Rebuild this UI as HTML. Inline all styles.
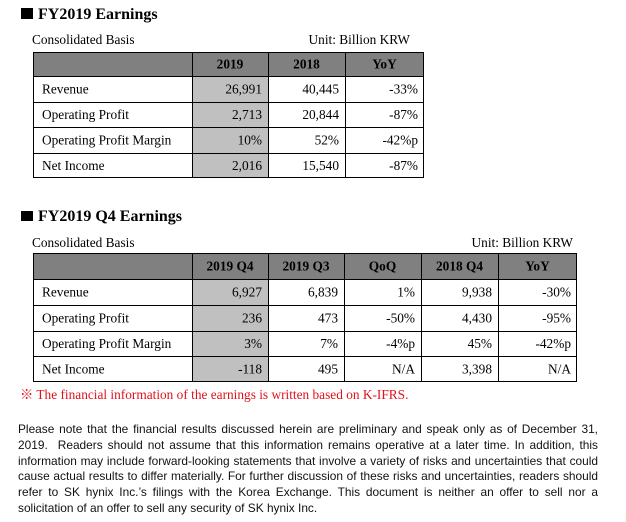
<!DOCTYPE html>
<html><head><meta charset="utf-8"><style>
html,body{margin:0;padding:0;background:#fff;}
body{width:626px;height:522px;position:relative;overflow:hidden;}
svg{position:absolute;left:0;top:0;}
.para{position:absolute;left:18px;top:422px;width:580px;font-family:"Liberation Sans","DejaVu Sans",sans-serif;font-size:11.9px;color:#111;}
.para div{height:15.8px;line-height:15.8px;text-align:justify;text-align-last:justify;white-space:nowrap;}
.para div.last{text-align-last:left;}
</style></head><body>
<svg width="626" height="522" viewBox="0 0 626 522" xmlns="http://www.w3.org/2000/svg" font-family="Liberation Serif, Times New Roman, serif" font-size="13.33">
<!-- Title 1 -->
<rect x="21" y="8" width="12" height="11" fill="#000"/>
<text x="38" y="19" font-size="16" font-weight="bold">FY2019 Earnings</text>
<text x="32" y="44">Consolidated Basis</text>
<text x="410" y="44" text-anchor="end">Unit: Billion KRW</text>
<!-- Table 1 -->
<rect x="33" y="52" width="391" height="24" fill="#808080"/>
<rect x="192" y="76" width="76" height="102" fill="#c0c0c0"/>
<g stroke="#000" stroke-width="1" fill="none">
<rect x="33.5" y="52.5" width="390" height="125"/>
<line x1="33" y1="76.5" x2="424" y2="76.5"/>
<line x1="33" y1="102.5" x2="424" y2="102.5"/>
<line x1="33" y1="127.5" x2="424" y2="127.5"/>
<line x1="33" y1="153.5" x2="424" y2="153.5"/>
<line x1="192.5" y1="52" x2="192.5" y2="178"/>
<line x1="268.5" y1="52" x2="268.5" y2="178"/>
<line x1="345.5" y1="52" x2="345.5" y2="178"/>
</g>
<g font-weight="bold" text-anchor="middle">
<text x="230" y="68.5">2019</text>
<text x="306.5" y="68.5">2018</text>
<text x="384.5" y="68.5">YoY</text>
</g>
<g>
<text x="42" y="93.5">Revenue</text>
<text x="42" y="119">Operating Profit</text>
<text x="42" y="144.5">Operating Profit Margin</text>
<text x="42" y="170">Net Income</text>
</g>
<g text-anchor="end">
<text x="262" y="93.5">26,991</text><text x="339" y="93.5">40,445</text><text x="418" y="93.5">-33%</text>
<text x="262" y="119">2,713</text><text x="339" y="119">20,844</text><text x="418" y="119">-87%</text>
<text x="262" y="144.5">10%</text><text x="339" y="144.5">52%</text><text x="418" y="144.5">-42%p</text>
<text x="262" y="170">2,016</text><text x="339" y="170">15,540</text><text x="418" y="170">-87%</text>
</g>

<!-- Title 2 -->
<rect x="21" y="211" width="12" height="10" fill="#000"/>
<text x="38" y="221" font-size="16" font-weight="bold">FY2019 Q4 Earnings</text>
<text x="32" y="247">Consolidated Basis</text>
<text x="573" y="247" text-anchor="end">Unit: Billion KRW</text>
<!-- Table 2 -->
<rect x="33" y="253" width="544" height="26" fill="#808080"/>
<rect x="192" y="279" width="76" height="103" fill="#c0c0c0"/>
<g stroke="#000" stroke-width="1" fill="none">
<rect x="33.5" y="253.5" width="543" height="128"/>
<line x1="33" y1="279.5" x2="577" y2="279.5"/>
<line x1="33" y1="305.5" x2="577" y2="305.5"/>
<line x1="33" y1="331.5" x2="577" y2="331.5"/>
<line x1="33" y1="356.5" x2="577" y2="356.5"/>
<line x1="192.5" y1="253" x2="192.5" y2="382"/>
<line x1="268.5" y1="253" x2="268.5" y2="382"/>
<line x1="344.5" y1="253" x2="344.5" y2="382"/>
<line x1="421.5" y1="253" x2="421.5" y2="382"/>
<line x1="498.5" y1="253" x2="498.5" y2="382"/>
</g>
<g font-weight="bold" text-anchor="middle">
<text x="230" y="270.5">2019 Q4</text>
<text x="306" y="270.5">2019 Q3</text>
<text x="382.5" y="270.5">QoQ</text>
<text x="459.5" y="270.5">2018 Q4</text>
<text x="537.5" y="270.5">YoY</text>
</g>
<g>
<text x="42" y="296.5">Revenue</text>
<text x="42" y="322.5">Operating Profit</text>
<text x="42" y="348">Operating Profit Margin</text>
<text x="42" y="373.5">Net Income</text>
</g>
<g text-anchor="end">
<text x="262" y="296.5">6,927</text><text x="338" y="296.5">6,839</text><text x="415" y="296.5">1%</text><text x="492" y="296.5">9,938</text><text x="571" y="296.5">-30%</text>
<text x="262" y="322.5">236</text><text x="338" y="322.5">473</text><text x="415" y="322.5">-50%</text><text x="492" y="322.5">4,430</text><text x="571" y="322.5">-95%</text>
<text x="262" y="348">3%</text><text x="338" y="348">7%</text><text x="415" y="348">-4%p</text><text x="492" y="348">45%</text><text x="571" y="348">-42%p</text>
<text x="262" y="373.5">-118</text><text x="338" y="373.5">495</text><text x="415" y="373.5">N/A</text><text x="492" y="373.5">3,398</text><text x="571" y="373.5">N/A</text>
</g>
<text x="20" y="399" fill="#e3101c" font-family="Liberation Serif, Noto Serif CJK SC, Noto Sans CJK JP, serif">※ The financial information of the earnings is written based on K-IFRS.</text>
</svg>
<div class="para">
<div>Please note that the financial results discussed herein are preliminary and speak only as of December 31,</div>
<div>2019.&nbsp; Readers should not assume that this information remains operative at a later time. In addition, this</div>
<div>information may include forward-looking statements that involve a variety of risks and uncertainties that could</div>
<div>cause actual results to differ materially. For further discussion of these risks and uncertainties, readers should</div>
<div>refer to SK hynix Inc.’s filings with the Korea Exchange. This document is neither an offer to sell nor a</div>
<div class="last">solicitation of an offer to sell any security of SK hynix Inc.</div>
</div>
</body></html>
